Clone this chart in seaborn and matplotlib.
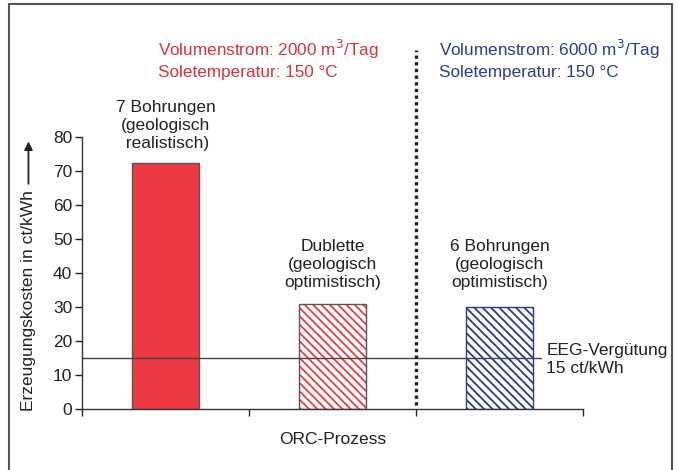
import matplotlib
matplotlib.use("Agg")
import matplotlib.pyplot as plt
from matplotlib.colors import to_rgba
from matplotlib.lines import Line2D
import seaborn as sns
import pandas as pd

# data
cats = ["7 Bohrungen", "Dublette", "6 Bohrungen"]
labels = ["7 Bohrungen\n(geologisch\n realistisch)",
          "Dublette\n(geologisch\noptimistisch)",
          "6 Bohrungen\n(geologisch\noptimistisch)"]
kosten = [72.3, 30.8, 30.0]
eeg = 15
yticks = [0, 10, 20, 30, 40, 50, 60, 70, 80]

red = "#ee3a42"
blue = "#2b3a8f"
txt_red = "#d8323c"
fs = 12.5

sns.set_theme(style="ticks")
plt.rcParams["font.family"] = ["Liberation Sans", "DejaVu Sans"]
plt.rcParams["hatch.linewidth"] = 1.3

df = pd.DataFrame({"Variante": cats, "Kosten": kosten})

fig = plt.figure(figsize=(6.78, 4.70), dpi=100)
ax = fig.add_axes([0.121, 0.13, 0.739, 0.5787])

sns.barplot(data=df, x="Variante", y="Kosten", width=0.4, ax=ax,
            color="white", saturation=1, edgecolor="#555555", linewidth=1)

bars = ax.patches
bars[0].set_facecolor(red)
bars[1].set_hatch("\\\\\\\\")
bars[1]._hatch_color = to_rgba(red)
bars[2].set_hatch("\\\\\\\\")
bars[2].set_edgecolor(blue)

ax.set_xlim(-0.5, 2.5)
ax.set_ylim(0, 80)
ax.set_yticks(yticks)
ax.set_xticks([-0.5, 0.5, 1.5, 2.5])
ax.set_xticklabels([])
ax.tick_params(axis="y", labelsize=fs, length=5, width=1, pad=2, colors="#222222")
ax.tick_params(axis="x", length=5, width=1)
sns.despine(ax=ax)
for s in ["left", "bottom"]:
    ax.spines[s].set_color("#333333")
    ax.spines[s].set_linewidth(1)

ax.set_xlabel("ORC-Prozess", fontsize=fs, labelpad=8, color="#222222")
ax.set_ylabel("")

# EEG line
ax.plot([-0.5, 2.25], [eeg, eeg], color="#444444", lw=1)
ax.text(2.28, 14.6, "EEG-Vergütung\n15 ct/kWh", fontsize=fs, va="center",
        ha="left", linespacing=1.25, color="#222222", clip_on=False)

# dotted separator
ax.plot([1.5, 1.5], [1.2, 105.5], color="#222222", lw=2.4,
        linestyle=(0, (1, 1)), clip_on=False)

# bar labels
mids = [83.5, 42.4, 42.4]
for i, lab in enumerate(labels):
    ax.text(i, mids[i], lab, ha="center", va="center", fontsize=fs,
            linespacing=1.25, color="#222222", clip_on=False)

# headers
ax.text(-0.046, 103, "Volumenstrom: 2000 m$^3$/Tag\nSoletemperatur: 150 °C",
        color=txt_red, fontsize=12.3, ha="left", va="center",
        linespacing=1.3, clip_on=False)
ax.text(1.64, 103, "Volumenstrom: 6000 m$^3$/Tag\nSoletemperatur: 150 °C",
        color=blue, fontsize=12.3, ha="left", va="center",
        linespacing=1.3, clip_on=False)

# y label with arrow
fig.text(0.042, 0.36, "Erzeugungskosten in ct/kWh", rotation=90,
         ha="center", va="center", fontsize=fs, color="#222222")
ax.annotate("", xy=(0.042, 0.705), xytext=(0.042, 0.603),
            xycoords="figure fraction", textcoords="figure fraction",
            arrowprops=dict(arrowstyle="-|>", color="#222222", lw=1.3,
                            mutation_scale=12))

# frame around the figure
fr = dict(color="#555555", lw=1.5, transform=fig.transFigure)
fig.add_artist(Line2D([0.013, 0.013], [0, 0.992], **fr))
fig.add_artist(Line2D([0.013, 0.991], [0.992, 0.992], **fr))
fig.add_artist(Line2D([0.991, 0.991], [0, 0.992], **fr))

fig.savefig("out.png", dpi=100)
